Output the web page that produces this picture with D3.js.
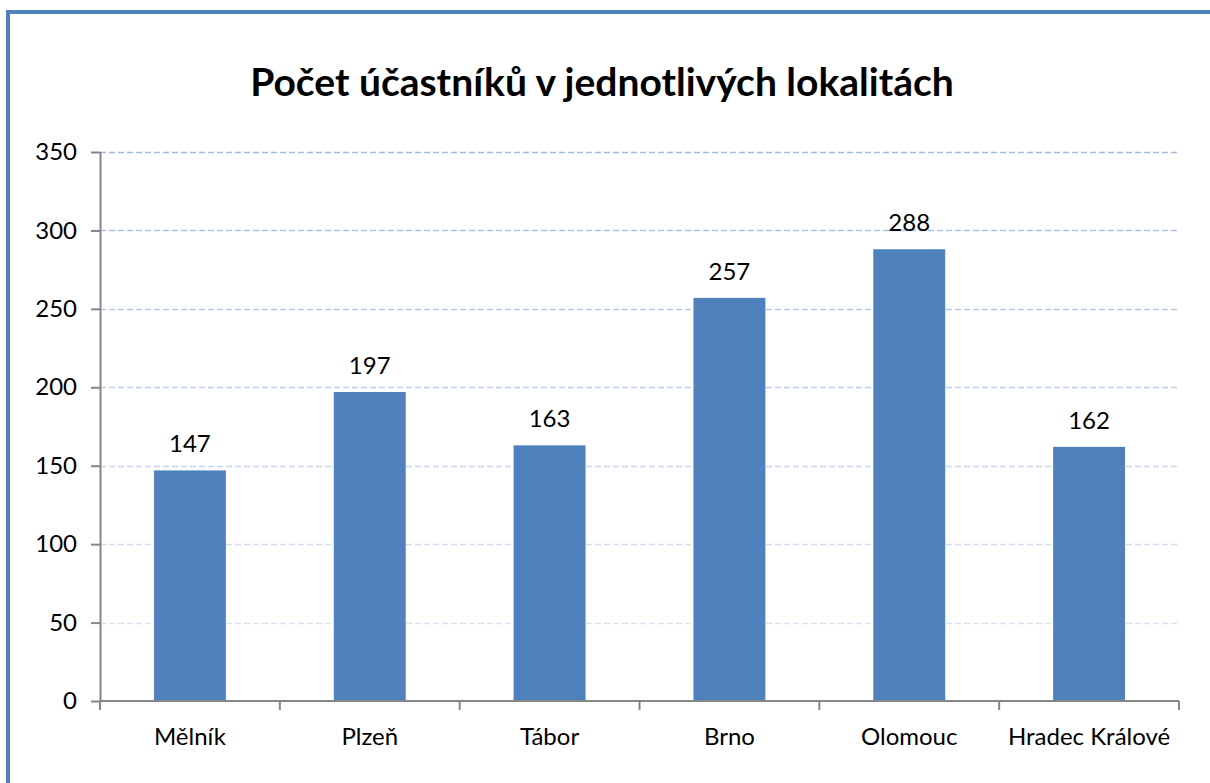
<!DOCTYPE html>
<html>
<head>
<meta charset="utf-8">
<script src="https://cdn.jsdelivr.net/npm/d3@7"></script>
<style>
  body { margin: 0; background: #fff; overflow: hidden; }
  svg { display: block; font-family: Lato, "Open Sans", sans-serif; }
</style>
</head>
<body>
<svg id="chart"></svg>
<script>
const TITLE = "Počet účastníků v jednotlivých lokalitách";
const categories = ["Mělník", "Plzeň", "Tábor", "Brno", "Olomouc", "Hradec Králové"];
const values = [147, 197, 163, 257, 288, 162];
const yTicks = [0, 50, 100, 150, 200, 250, 300, 350];

const width = 1210, height = 783;
const margin = { left: 100, right: 31, top: 152, bottom: 82 };
const innerWidth = width - margin.left - margin.right;
const innerHeight = height - margin.top - margin.bottom;
const labelSize = 24;

const svg = d3.select("#chart").attr("width", width).attr("height", height);

// chart frame: only the top and left edges fall inside the window
svg.append("path")
  .attr("d", `M8,${height}V12H${width}`)
  .attr("fill", "none")
  .attr("stroke", "#4F81BD")
  .attr("stroke-width", 4);

svg.append("text")
  .attr("x", 602).attr("y", 96)
  .attr("text-anchor", "middle")
  .attr("font-size", 39)
  .attr("font-weight", "bold")
  .attr("fill", "#000")
  .text(TITLE);

const x = d3.scaleBand().domain(categories).range([0, innerWidth]).paddingInner(0.6).paddingOuter(0.3);
const y = d3.scaleLinear().domain([0, 350]).range([innerHeight, 0]);

const plot = svg.append("g").attr("transform", `translate(${margin.left},${margin.top})`);

// dashed gridlines, fading toward the bottom
const gridColor = d3.scaleLinear().domain([0, 350]).range(["#e2e9f6", "#a3bbe6"]);
plot.append("g")
  .selectAll("line")
  .data(yTicks.filter(d => d > 0))
  .join("line")
  .attr("x1", 0).attr("x2", innerWidth)
  .attr("y1", d => Math.round(y(d)) + 0.5).attr("y2", d => Math.round(y(d)) + 0.5)
  .attr("stroke", d => gridColor(d))
  .attr("stroke-width", 1.5)
  .attr("stroke-dasharray", "6,3");

// bars
plot.append("g")
  .selectAll("rect")
  .data(values)
  .join("rect")
  .attr("x", (d, i) => x(categories[i]))
  .attr("y", d => y(d))
  .attr("width", x.bandwidth())
  .attr("height", d => y(0) - y(d))
  .attr("fill", "#4F81BD");

// value labels
plot.append("g")
  .selectAll("text")
  .data(values)
  .join("text")
  .attr("x", (d, i) => x(categories[i]) + x.bandwidth() / 2)
  .attr("y", d => y(d) - 18)
  .attr("text-anchor", "middle")
  .attr("font-size", labelSize)
  .attr("fill", "#000")
  .text(d => d);

// y axis
const yAxis = plot.append("g")
  .attr("class", "y-axis")
  .call(d3.axisLeft(y).tickValues(yTicks).tickSize(9).tickPadding(14));
yAxis.attr("font-family", null).attr("font-size", labelSize);
yAxis.select(".domain").attr("stroke", "#868686").attr("stroke-width", 2).attr("d", `M0.5,0V${innerHeight}`);
yAxis.selectAll(".tick line").attr("stroke", "#868686").attr("stroke-width", 2);
yAxis.selectAll(".tick text").attr("fill", "#000");

// x axis
const xAxis = plot.append("g").attr("transform", `translate(0,${innerHeight})`);
xAxis.append("line")
  .attr("x1", 0).attr("x2", innerWidth)
  .attr("stroke", "#868686").attr("stroke-width", 2);
xAxis.selectAll("line.sep")
  .data(d3.range(categories.length + 1))
  .join("line")
  .attr("class", "sep")
  .attr("x1", i => i * innerWidth / categories.length)
  .attr("x2", i => i * innerWidth / categories.length)
  .attr("y1", 0).attr("y2", 9)
  .attr("stroke", "#868686").attr("stroke-width", 2);
xAxis.selectAll("text")
  .data(categories)
  .join("text")
  .attr("x", d => x(d) + x.bandwidth() / 2)
  .attr("y", 44)
  .attr("text-anchor", "middle")
  .attr("font-size", labelSize)
  .attr("fill", "#000")
  .text(d => d);
</script>
</body>
</html>
